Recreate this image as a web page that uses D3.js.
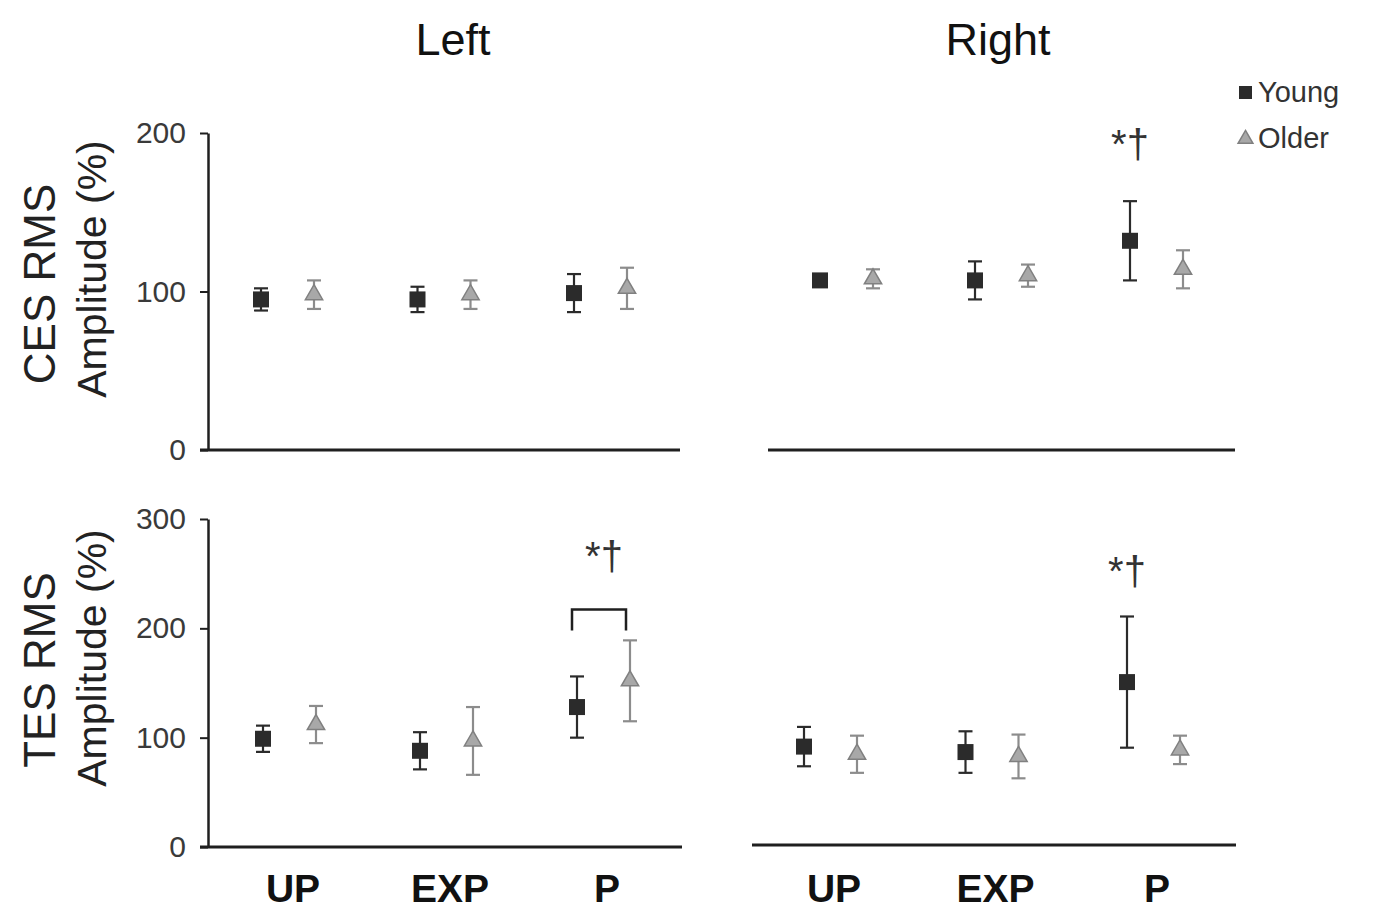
<!DOCTYPE html>
<html>
<head>
<meta charset="utf-8">
<script src="https://cdn.jsdelivr.net/npm/d3@7"></script>
<style>
  body { margin: 0; background: #fff; }
  text { font-family: "Liberation Sans", Arial, sans-serif; }
</style>
</head>
<body>
<svg id="chart" width="1374" height="915"></svg>
<script>
// categories and groups
var categories = ['UP', 'EXP', 'P'];
var groups = ['Young', 'Older'];
var columnTitles = ['Left', 'Right'];

// CES RMS amplitude (%), mean and error
var cesLeftYoung = [95, 95, 99];
var cesLeftYoungErr = [7, 8, 12];
var cesLeftOlder = [98, 98, 102];
var cesLeftOlderErr = [9, 9, 13];
var cesRightYoung = [107, 107, 132];
var cesRightYoungErr = [3, 12, 25];
var cesRightOlder = [108, 110, 114];
var cesRightOlderErr = [6, 7, 12];

// TES RMS amplitude (%), mean and error
var tesLeftYoung = [99, 88, 128];
var tesLeftYoungErr = [12, 17, 28];
var tesLeftOlder = [112, 97, 152];
var tesLeftOlderErr = [17, 31, 37];
var tesRightYoung = [90, 85, 149];
var tesRightYoungErr = [18, 19, 60];
var tesRightOlder = [83, 81, 87];
var tesRightOlderErr = [17, 20, 13];

// y tick labels
var cesTicks = [0, 100, 200];
var tesTicks = [0, 100, 200, 300];

// significance marks: panel, category, level (value where text sits), bracket or not
var sigMarks = [
  { panel: 'cesRight', cat: 'P', at: 184, bracket: false },
  { panel: 'tesLeft', cat: 'P', at: 253, bracket: true },
  { panel: 'tesRight', cat: 'P', at: 238, bracket: false }
];

var svg = d3.select('#chart');
var ink = '#1f1f1f';
var colors = { Young: '#2b2b2b', Older: '#8c8c8c' };
var offsets = { Young: -27, Older: 26 };

function series(mean, err) {
  return categories.map(function(c, i) { return { cat: c, mean: mean[i], err: err[i] }; });
}

var panels = [
  { id: 'cesLeft', xr: [288, 601], line: [200, 680], y0: 450, y1: 133, ticks: cesTicks, yAxis: true,
    data: { Young: series(cesLeftYoung, cesLeftYoungErr), Older: series(cesLeftOlder, cesLeftOlderErr) } },
  { id: 'cesRight', xr: [847, 1157], line: [768, 1235], y0: 450, y1: 133, ticks: cesTicks, yAxis: false,
    data: { Young: series(cesRightYoung, cesRightYoungErr), Older: series(cesRightOlder, cesRightOlderErr) } },
  { id: 'tesLeft', xr: [290, 604], line: [200, 682], y0: 847, y1: 519, ticks: tesTicks, yAxis: true, cats: true,
    data: { Young: series(tesLeftYoung, tesLeftYoungErr), Older: series(tesLeftOlder, tesLeftOlderErr) } },
  { id: 'tesRight', xr: [831, 1154], line: [752, 1236], y0: 845, y1: 517, ticks: tesTicks, yAxis: false, cats: true,
    data: { Young: series(tesRightYoung, tesRightYoungErr), Older: series(tesRightOlder, tesRightOlderErr) } }
];

panels.forEach(function(p) {
  var x = d3.scalePoint().domain(categories).range(p.xr);
  var y = d3.scaleLinear().domain([0, d3.max(p.ticks)]).range([p.y0, p.y1]);
  p.x = x; p.y = y;
  var g = svg.append('g');

  // y axis
  if (p.yAxis) {
    var ax = g.append('g')
      .attr('transform', 'translate(208,0)')
      .call(d3.axisLeft(y).tickValues(p.ticks).tickSize(8).tickPadding(14).tickSizeOuter(0));
    ax.select('.domain').attr('stroke', ink).attr('stroke-width', 2.5);
    ax.selectAll('.tick line').attr('stroke', ink).attr('stroke-width', 2);
    ax.selectAll('.tick text').attr('fill', '#3a3a3a').style('font-size', '30px');
  }

  // category axis line
  g.append('line')
    .attr('x1', p.line[0]).attr('x2', p.line[1])
    .attr('y1', p.y0).attr('y2', p.y0)
    .attr('stroke', ink).attr('stroke-width', 3);

  if (p.cats) {
    g.selectAll('.cat').data(categories).enter().append('text')
      .attr('x', function(d) { return x(d) + 3; })
      .attr('y', 902)
      .attr('text-anchor', 'middle')
      .attr('font-weight', 'bold')
      .style('font-size', '39px')
      .attr('fill', '#111')
      .text(function(d) { return d; });
  }

  groups.forEach(function(grp) {
    var col = colors[grp];
    var pts = p.data[grp];
    var cx = function(d) { return x(d.cat) + offsets[grp]; };
    var bars = g.append('g').attr('stroke', col).attr('stroke-width', 2.2);
    bars.selectAll('.v').data(pts).enter().append('line')
      .attr('x1', cx).attr('x2', cx)
      .attr('y1', function(d) { return y(d.mean + d.err); })
      .attr('y2', function(d) { return y(d.mean - d.err); });
    [1, -1].forEach(function(s) {
      bars.selectAll('.c' + s).data(pts).enter().append('line')
        .attr('x1', function(d) { return cx(d) - 7; })
        .attr('x2', function(d) { return cx(d) + 7; })
        .attr('y1', function(d) { return y(d.mean + s * d.err); })
        .attr('y2', function(d) { return y(d.mean + s * d.err); });
    });
    if (grp === 'Young') {
      g.selectAll('.sq').data(pts).enter().append('rect')
        .attr('x', function(d) { return cx(d) - 8; })
        .attr('y', function(d) { return y(d.mean) - 8; })
        .attr('width', 16).attr('height', 16)
        .attr('fill', col);
    } else {
      g.selectAll('.tri').data(pts).enter().append('path')
        .attr('transform', function(d) { return 'translate(' + cx(d) + ',' + y(d.mean) + ')'; })
        .attr('d', d3.symbol(d3.symbolTriangle, 130))
        .attr('fill', '#a8a8a8')
        .attr('stroke', '#808080')
        .attr('stroke-width', 1.5);
    }
  });
});

// significance marks
sigMarks.forEach(function(m) {
  var p = panels.find(function(q) { return q.id === m.panel; });
  var xc = m.bracket ? p.x(m.cat) : p.x(m.cat) + offsets.Young;
  var yb = p.y(m.at);
  if (m.bracket) {
    var xl = p.x(m.cat) + offsets.Young - 5, xr = p.x(m.cat) + offsets.Older - 4;
    svg.append('path')
      .attr('d', 'M' + xl + ',' + (yb + 60) + 'V' + (yb + 39) + 'H' + xr + 'V' + (yb + 60))
      .attr('fill', 'none').attr('stroke', ink).attr('stroke-width', 2.5);
  }
  svg.append('text')
    .attr('x', xc).attr('y', yb)
    .attr('text-anchor', 'middle')
    .style('font-size', '40px')
    .attr('fill', '#333')
    .text('*\u2020');
});

// column titles
svg.selectAll('.col').data(columnTitles).enter().append('text')
  .attr('x', function(d, i) { return i === 0 ? 453 : 998; })
  .attr('y', 55)
  .attr('text-anchor', 'middle')
  .style('font-size', '45px')
  .attr('fill', '#111')
  .text(function(d) { return d; });

// y titles: first line, its centre, second line centre
[['CES RMS', 284, 269], ['TES RMS', 670, 658]].forEach(function(t) {
  svg.append('text')
    .attr('transform', 'translate(55,' + t[1] + ') rotate(-90)')
    .attr('text-anchor', 'middle')
    .style('font-size', '44px')
    .attr('fill', '#222')
    .text(t[0]);
  svg.append('text')
    .attr('transform', 'translate(106,' + t[2] + ') rotate(-90)')
    .attr('text-anchor', 'middle')
    .style('font-size', '41px')
    .attr('fill', '#222')
    .text('Amplitude (%)');
});

// legend
var leg = svg.append('g');
leg.append('rect').attr('x', 1239).attr('y', 86).attr('width', 13).attr('height', 13).attr('fill', colors.Young);
leg.append('path').attr('transform', 'translate(1245.5,139)')
  .attr('d', d3.symbol(d3.symbolTriangle, 95))
  .attr('fill', '#a8a8a8').attr('stroke', '#808080').attr('stroke-width', 1.5);
leg.selectAll('.lt').data(groups).enter().append('text')
  .attr('x', 1258)
  .attr('y', function(d, i) { return 102 + i * 46; })
  .style('font-size', '29px')
  .attr('fill', '#333')
  .text(function(d) { return d; });
</script>
</body>
</html>
